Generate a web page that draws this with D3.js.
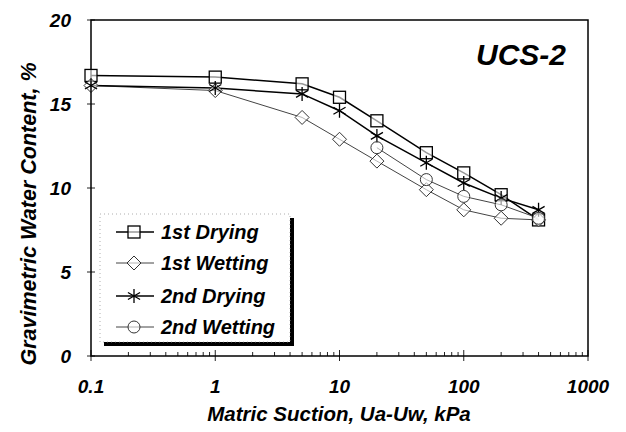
<!DOCTYPE html>
<html>
<head>
<meta charset="utf-8">
<script src="https://cdn.jsdelivr.net/npm/d3@7"></script>
<style>
  body { margin: 0; background: #fff; }
  text { font-family: Arial, "Liberation Sans", sans-serif; font-weight: bold; font-style: italic; }
</style>
</head>
<body>
<div class="chart"></div>
<script>
const width = 626, height = 432

// suction values, kPa
const suction = [0.1, 1, 5, 10, 20, 50, 100, 200, 400]
const dry1 = [16.7, 16.6, 16.2, 15.4, 14.0, 12.1, 10.9, 9.6, 8.1]
const wet1 = [16.1, 15.8, 14.2, 12.9, 11.6, 9.9, 8.7, 8.2, 8.1]
const dry2 = [16.1, 15.95, 15.6, 14.6, 13.1, 11.5, 10.3, 9.4, 8.7]
const suction2 = [20, 50, 100, 200, 400]
const wet2 = [12.4, 10.5, 9.5, 9.0, 8.2]

const xTicks = [0.1, 1, 10, 100, 1000]
const yTicks = [0, 5, 10, 15, 20]
const legendNames = ['1st Drying', '1st Wetting', '2nd Drying', '2nd Wetting']

const margin = { left: 91, right: 38, top: 20, bottom: 76 }

const svg = d3.select('.chart').append('svg')
    .attr('width', width)
    .attr('height', height)

const x = d3.scaleLog()
    .domain([0.1, 1000])
    .range([margin.left, width - margin.right])

const y = d3.scaleLinear()
    .domain([0, 20])
    .range([height - margin.bottom, margin.top])

// minor ticks on x (inside)
const minor = []
for (let e = -1; e < 3; e++) {
    for (let k = 2; k < 10; k++) minor.push(k * Math.pow(10, e))
}
svg.append('g').selectAll('line')
    .data(minor)
    .enter().append('line')
    .attr('x1', d => x(d)).attr('x2', d => x(d))
    .attr('y1', y(0)).attr('y2', y(0) - 4)
    .attr('stroke', '#222').attr('stroke-width', 1)

svg.append('g').selectAll('line')
    .data(xTicks)
    .enter().append('line')
    .attr('x1', d => x(d)).attr('x2', d => x(d))
    .attr('y1', y(0) + 5).attr('y2', y(0) - 6)
    .attr('stroke', '#222').attr('stroke-width', 1)

svg.append('g').selectAll('line')
    .data(yTicks)
    .enter().append('line')
    .attr('x1', x(0.1) - 4).attr('x2', x(0.1) + 4)
    .attr('y1', d => y(d)).attr('y2', d => y(d))
    .attr('stroke', '#222').attr('stroke-width', 1)

// frame
svg.append('rect')
    .attr('x', x(0.1)).attr('y', y(20))
    .attr('width', x(1000) - x(0.1))
    .attr('height', y(0) - y(20))
    .attr('fill', 'none')
    .attr('stroke', '#000')
    .attr('stroke-width', 1.5)

// tick labels
svg.append('g').selectAll('text')
    .data(xTicks)
    .enter().append('text')
    .attr('x', d => x(d))
    .attr('y', 393)
    .attr('text-anchor', 'middle')
    .style('font-size', '19px')
    .text(d => d3.format('~g')(d))

svg.append('g').selectAll('text')
    .data(yTicks)
    .enter().append('text')
    .attr('x', 71)
    .attr('y', d => y(d) + 7)
    .attr('text-anchor', 'end')
    .style('font-size', '19px')
    .text(d => d)

// axis titles
svg.append('text')
    .attr('x', 339).attr('y', 421)
    .attr('text-anchor', 'middle')
    .style('font-size', '20.5px')
    .text('Matric Suction, Ua-Uw, kPa')

svg.append('text')
    .attr('transform', 'translate(36,' + 214 + ') rotate(-90)')
    .attr('text-anchor', 'middle')
    .style('font-size', '21.5px')
    .text('Gravimetric Water Content, %')

svg.append('text')
    .attr('x', 566).attr('y', 65)
    .attr('text-anchor', 'end')
    .style('font-size', '30px')
    .text('UCS-2')

// marker drawing
function marker(g, type, cx, cy) {
    if (type === 'square') {
        g.append('rect').attr('x', cx - 6).attr('y', cy - 6)
            .attr('width', 12).attr('height', 12)
            .attr('fill', '#fff').attr('fill-opacity', 0.6)
            .attr('stroke', '#000').attr('stroke-width', 1.3)
    } else if (type === 'diamond') {
        g.append('path')
            .attr('d', `M${cx},${cy - 7}L${cx + 7},${cy}L${cx},${cy + 7}L${cx - 7},${cy}Z`)
            .attr('fill', '#fff').attr('fill-opacity', 0.6)
            .attr('stroke', '#333').attr('stroke-width', 1)
    } else if (type === 'star') {
        const r = 7
        g.append('path').attr('d', [0, 60, 120].map(a => {
            const t = (a + 90) * Math.PI / 180
            return `M${cx - r * Math.cos(t)},${cy - r * Math.sin(t)}L${cx + r * Math.cos(t)},${cy + r * Math.sin(t)}`
        }).join(''))
            .attr('stroke', '#000').attr('stroke-width', 1.3).attr('fill', 'none')
    } else if (type === 'circle') {
        g.append('circle').attr('cx', cx).attr('cy', cy).attr('r', 6)
            .attr('fill', '#fff').attr('fill-opacity', 0.6)
            .attr('stroke', '#333').attr('stroke-width', 1)
    }
}

const series = [
    { xs: suction, ys: dry1, type: 'square', stroke: '#000', sw: 1.5 },
    { xs: suction, ys: wet1, type: 'diamond', stroke: '#444', sw: 1 },
    { xs: suction, ys: dry2, type: 'star', stroke: '#000', sw: 1.5 },
    { xs: suction2, ys: wet2, type: 'circle', stroke: '#444', sw: 1 }
]

const line = d3.line().x(d => x(d[0])).y(d => y(d[1]))

series.forEach(s => {
    const pts = s.xs.map((v, i) => [v, s.ys[i]])
    svg.append('path')
        .datum(pts)
        .attr('d', line)
        .attr('fill', 'none')
        .attr('stroke', s.stroke)
        .attr('stroke-width', s.sw)
})
series.forEach(s => {
    const g = svg.append('g')
    s.xs.forEach((v, i) => marker(g, s.type, x(v), y(s.ys[i])))
})

// legend with shadow
const lg = svg.append('g').attr('class', 'legend')
lg.append('rect')
    .attr('x', 104).attr('y', 218)
    .attr('width', 190).attr('height', 128)
    .attr('fill', '#000')
lg.append('rect')
    .attr('x', 100).attr('y', 214)
    .attr('width', 190).attr('height', 128)
    .attr('fill', '#fff')
    .attr('stroke', '#999').attr('stroke-width', 0.8)
    .attr('stroke-dasharray', '1,3')

const legendY = [232, 263, 296, 327]
series.forEach((s, i) => {
    const ly = legendY[i]
    lg.append('line')
        .attr('x1', 116).attr('x2', 154)
        .attr('y1', ly).attr('y2', ly)
        .attr('stroke', s.stroke).attr('stroke-width', s.sw)
    marker(lg, s.type, 134, ly)
    lg.append('text')
        .attr('x', 161).attr('y', ly + 7)
        .style('font-size', '20px')
        .text(legendNames[i])
})
</script>
</body>
</html>
